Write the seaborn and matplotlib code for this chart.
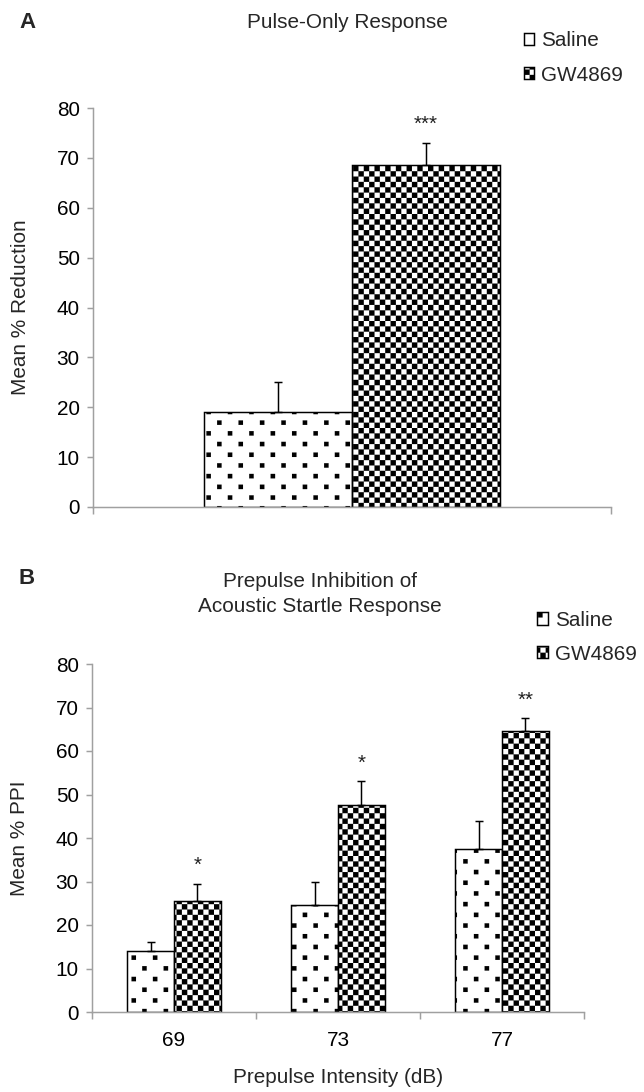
import numpy as np
import pandas as pd
import matplotlib
matplotlib.use("Agg")
import matplotlib.pyplot as plt
import matplotlib.hatch as mhatch
from matplotlib.path import Path
import seaborn as sns

# ---------------- data ----------------
groups = ["Saline", "GW4869"]
pulse_mean = [19.0, 68.5]
pulse_sem = [6.0, 4.5]
pulse_sig = ["", "***"]

intensity = ["69", "73", "77"]
ppi_saline = [14.0, 24.5, 37.5]
ppi_saline_sem = [2.0, 5.5, 6.5]
ppi_gw = [25.5, 47.5, 64.5]
ppi_gw_sem = [4.0, 5.5, 3.0]
ppi_sig = ["*", "*", "**"]

yticks = [0, 10, 20, 30, 40, 50, 60, 70, 80]


# ---------------- custom hatch patterns (square dots / checkerboard) ----------------
class _SquareHatch(mhatch.HatchPatternBase):
    char = None
    half = 0.02

    def __init__(self, hatch, density):
        if hatch and self.char in hatch:
            self.centers = self._centers()
        else:
            self.centers = np.empty((0, 2))
        self.num_vertices = len(self.centers) * 5

    def set_vertices_and_codes(self, vertices, codes):
        h = self.half
        sq = np.array([[-h, -h], [h, -h], [h, h], [-h, h], [-h, -h]])
        vertices[:] = (self.centers[:, None, :] + sq[None]).reshape(-1, 2)
        c = np.array([Path.MOVETO, Path.LINETO, Path.LINETO, Path.LINETO,
                      Path.CLOSEPOLY], dtype=Path.code_type)
        codes[:] = np.tile(c, len(self.centers))


class CheckerHatch(_SquareHatch):
    char = "*"
    half = 1 / 40

    def _centers(self):
        pts = [((i + 0.5) / 20, (j + 0.5) / 20)
               for i in range(20) for j in range(20) if (i + j) % 2 == 0]
        return np.array(pts)


class DotHatch(_SquareHatch):
    char = "."
    half = 0.021

    def _centers(self):
        pts = []
        for r in range(10):
            for c in range(5):
                pts.append(((c + 0.25 + 0.5 * (r % 2)) / 5, (r + 0.5) / 10))
        return np.array(pts)


mhatch._hatch_types = [CheckerHatch, DotHatch]

# ---------------- style ----------------
sns.set_theme(style="white")
plt.rcParams["font.family"] = ["Liberation Sans", "DejaVu Sans"]
plt.rcParams["hatch.linewidth"] = 0.05
plt.rcParams["axes.unicode_minus"] = False

DPI = 107
W, H = 644, 1092
fig = plt.figure(figsize=(W / DPI, H / DPI), dpi=DPI)
fig.patch.set_facecolor("white")

FS = 14
AXCOL = "#a0a0a0"
hatches = {"Saline": ".", "GW4869": "*"}
palette = {"Saline": "white", "GW4869": "white"}


def px_rect(l, t, r, b):
    return [l / W, 1 - b / H, (r - l) / W, (b - t) / H]


def style_axes(ax):
    for s in ["top", "right"]:
        ax.spines[s].set_visible(False)
    for s in ["left", "bottom"]:
        ax.spines[s].set_color(AXCOL)
        ax.spines[s].set_linewidth(1.0)
    ax.set_facecolor("white")
    ax.set_ylim(0, 80)
    ax.set_yticks(yticks)
    ax.tick_params(axis="y", which="major", direction="out", length=4,
                   width=1.0, color=AXCOL, labelsize=FS, pad=5,
                   left=True, labelcolor="black")
    ax.tick_params(axis="x", which="major", direction="out", length=5,
                   width=1.0, color=AXCOL, bottom=True, labelbottom=False)
    ax.tick_params(axis="x", which="minor", length=0, labelsize=FS,
                   pad=13, labelcolor="black")
    ax.grid(False)


def add_bars_extras(ax, containers, means, sems, sigs_per_group):
    for cont, mvals, svals, sigs in zip(containers, means, sems, sigs_per_group):
        for patch, m, s, sig in zip(cont.patches, mvals, svals, sigs):
            patch.set_hatch(hatches.get(cont.get_label()))
            x = patch.get_x() + patch.get_width() / 2
            ax.errorbar([x], [m], yerr=[[0], [s]], fmt="none", ecolor="black",
                        elinewidth=1.0, capsize=2.8, capthick=1.0, zorder=3)
            if sig:
                ax.annotate(sig, xy=(x, m + s), xytext=(0, 6),
                            textcoords="offset points", ha="center",
                            va="bottom", fontsize=FS, color="#222222")


# ---------------- Panel A ----------------
dfA = pd.DataFrame({"cat": [""] * len(groups), "group": groups, "value": pulse_mean})
axA = fig.add_axes(px_rect(93, 108, 611, 507))
sns.barplot(data=dfA, x="cat", y="value", hue="group", hue_order=groups,
            palette=palette, width=0.57, errorbar=None, edgecolor="black",
            linewidth=1.0, legend=False, ax=axA, saturation=1)
style_axes(axA)
axA.set_xlim(-0.5, 0.5)
axA.set_xticks([-0.5, 0.5])
axA.set_xlabel("")
axA.set_ylabel("Mean % Reduction", fontsize=FS, labelpad=18)
for cont, g in zip(axA.containers, groups):
    cont.set_label(g)
add_bars_extras(axA, axA.containers,
                [[pulse_mean[0]], [pulse_mean[1]]],
                [[pulse_sem[0]], [pulse_sem[1]]],
                [[pulse_sig[0]], [pulse_sig[1]]])
hA = [axA.containers[0].patches[0], axA.containers[1].patches[0]]
fig.legend(hA, groups, loc="upper left", bbox_to_anchor=(524 / W, 1 - 31 / H),
           frameon=False, fontsize=FS, handlelength=0.5, handleheight=0.5,
           handletextpad=0.3, labelspacing=0.75, borderpad=0, borderaxespad=0)

# ---------------- Panel B ----------------
dfB = pd.DataFrame({
    "intensity": intensity * 2,
    "group": ["Saline"] * len(intensity) + ["GW4869"] * len(intensity),
    "value": ppi_saline + ppi_gw,
})
axB = fig.add_axes(px_rect(92, 664, 584, 1012))
sns.barplot(data=dfB, x="intensity", y="value", hue="group", hue_order=groups,
            order=intensity, palette=palette, width=0.57, errorbar=None,
            edgecolor="black", linewidth=1.0, legend=False, ax=axB, saturation=1)
style_axes(axB)
axB.set_xlim(-0.5, len(intensity) - 0.5)
axB.set_xticks(np.arange(len(intensity) + 1) - 0.5)
axB.set_xticks(np.arange(len(intensity)), minor=True)
axB.set_xticklabels(intensity, minor=True)
axB.tick_params(axis="x", which="minor", labelbottom=True)
axB.set_xlabel("Prepulse Intensity (dB)", fontsize=FS, labelpad=12)
axB.set_ylabel("Mean % PPI", fontsize=FS, labelpad=18)
for cont, g in zip(axB.containers, groups):
    cont.set_label(g)
add_bars_extras(axB, axB.containers,
                [ppi_saline, ppi_gw], [ppi_saline_sem, ppi_gw_sem],
                [[""] * 3, ppi_sig])
hB = [axB.containers[0].patches[0], axB.containers[1].patches[0]]
fig.legend(hB, groups, loc="upper left", bbox_to_anchor=(537 / W, 1 - 611 / H),
           frameon=False, fontsize=FS, handlelength=0.55, handleheight=0.55,
           handletextpad=0.3, labelspacing=0.7, borderpad=0, borderaxespad=0)

# ---------------- titles / panel letters ----------------
fig.text(27 / W, 1 - 23 / H, "A", fontsize=FS + 1, fontweight="bold",
         ha="center", va="center")
fig.text(347 / W, 1 - 22 / H, "Pulse-Only Response", fontsize=FS,
         ha="center", va="center")
fig.text(27 / W, 1 - 578 / H, "B", fontsize=FS + 1, fontweight="bold",
         ha="center", va="center")
fig.text(320 / W, 1 - 594 / H, "Prepulse Inhibition of\nAcoustic Startle Response",
         fontsize=FS, ha="center", va="center", linespacing=1.35)

fig.savefig("out.png", dpi=DPI, facecolor="white")
